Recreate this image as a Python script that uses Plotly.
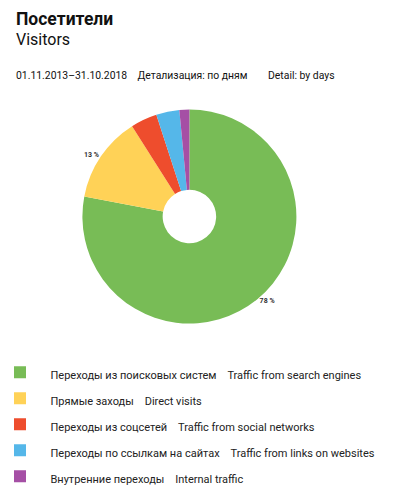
import plotly.graph_objects as go

labels_ru = ["Переходы из поисковых систем", "Прямые заходы", "Переходы из соцсетей",
             "Переходы по ссылкам на сайтах", "Внутренние переходы"]
labels_en = ["Traffic from search engines", "Direct visits", "Traffic from social networks",
             "Traffic from links on websites", "Internal traffic"]
shares = [78, 13, 4, 3.5, 1.5]
colors = ["#78BC56", "#FFD257", "#EE4D2D", "#55B7E9", "#A54FA5"]

gap = "\u00a0" * 4
# legend font is big only to get the row spacing, the visible text is 11px
names = ["<span style='font-size:11px'>\u00a0\u00a0" + ru + gap + en + "</span>"
         for ru, en in zip(labels_ru, labels_en)]
# only the big slices get a label on the original
texts = ["%d %%" % v if v >= 10 else "" for v in shares]

fig = go.Figure()
fig.add_trace(go.Pie(
    labels=names, values=shares, text=texts,
    textinfo="text", textposition="outside",
    textfont=dict(family="Roboto", size=7, color="#333333", weight="bold"),
    marker=dict(colors=colors, line=dict(width=0)),
    hole=0.25, sort=False, direction="clockwise",
    domain=dict(x=[0.186, 0.721], y=[0.3677, 0.7966]),
    hoverinfo="label+percent",
))

anns = [
    dict(text="<b>Посетители</b>", y=1.003, size=17.5),
    dict(text="Visitors", y=0.96, size=16),
    dict(text="01.11.2013–31.10.2018" + gap + "Детализация: по дням" + gap + gap + "Detail: by days",
         y=0.881, size=10.4),
]
for a in anns:
    fig.add_annotation(text=a["text"], x=0.015, y=a["y"], xref="paper", yref="paper",
                       xanchor="left", yanchor="top", showarrow=False,
                       font=dict(family="Roboto", size=a["size"], color="#111111"))

fig.update_layout(
    width=400, height=499,
    margin=dict(l=0, r=0, t=0, b=0),
    paper_bgcolor="white", plot_bgcolor="white",
    font=dict(family="Roboto", color="#222222"),
    legend=dict(x=0, y=0.306, xanchor="left", yanchor="top",
                font=dict(size=17.7, color="#222222"), itemwidth=40, indentation=-13),
    showlegend=True,
)

fig.write_html("out.html")
